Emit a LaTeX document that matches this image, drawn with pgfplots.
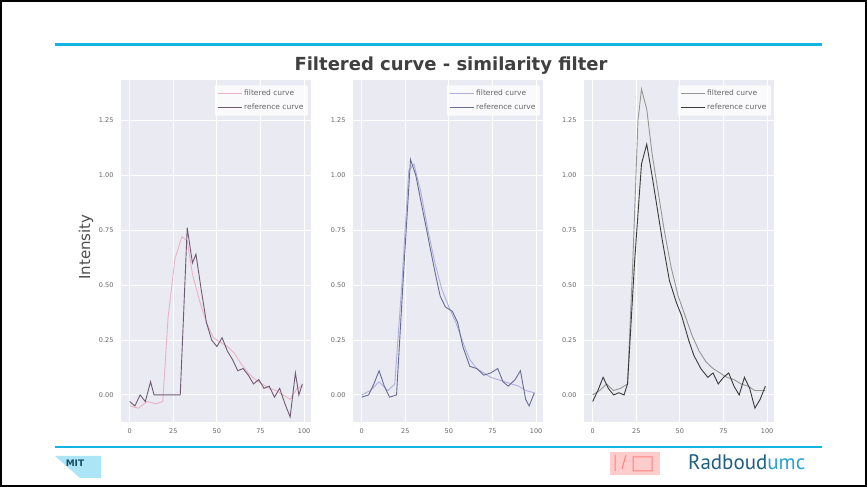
\documentclass[border=0pt]{standalone}
\usepackage{pgfplots}
\pgfplotsset{compat=1.18}
\usepackage{fontspec}
\setmainfont{DejaVu Sans}
\newfontfamily\radfont{PT Sans}
\definecolor{bgc}{HTML}{EAEAF2}
\definecolor{cyanline}{HTML}{12B4E2}
\definecolor{pinkA}{HTML}{E9B3C6}
\definecolor{darkA}{HTML}{6E5A72}
\definecolor{lavB}{HTML}{AEB0DA}
\definecolor{darkB}{HTML}{676C92}
\definecolor{grayC}{HTML}{969696}
\definecolor{darkC}{HTML}{3A3A3A}
\definecolor{radA}{HTML}{1E5F82}
\definecolor{radB}{HTML}{2AA0D4}

\pgfplotstableread{
x y
0 -0.05
5 -0.06
10 -0.03
15 -0.04
19 -0.03
22 0.35
26 0.62
30 0.72
33 0.70
36 0.55
40 0.43
44 0.33
48 0.26
52 0.24
56 0.22
60 0.19
64 0.14
68 0.10
72 0.07
76 0.05
80 0.03
84 0.02
88 0.00
92 -0.02
96 0.03
99 0.04
}\filtA
\pgfplotstableread{
x y
0 -0.03
3 -0.05
6 0.00
9 -0.03
12 0.06
14 0.00
18 0.00
22 0.00
26 0.00
29 0.00
33 0.76
36 0.60
38 0.64
41 0.48
44 0.33
47 0.25
50 0.22
53 0.26
56 0.20
59 0.16
62 0.11
65 0.12
68 0.09
71 0.05
74 0.07
77 0.03
80 0.04
83 -0.01
86 0.03
89 -0.04
92 -0.10
95 0.10
97 0.00
99 0.05
}\refA
\pgfplotstableread{
x y
0 0.00
5 0.02
10 0.06
15 0.02
19 0.05
23 0.50
27 1.02
30 1.05
34 0.92
38 0.75
42 0.60
46 0.48
50 0.40
54 0.33
58 0.24
62 0.16
66 0.12
70 0.10
74 0.08
78 0.07
82 0.06
86 0.05
90 0.04
94 0.02
99 0.01
}\filtB
\pgfplotstableread{
x y
0 -0.01
4 0.00
7 0.05
10 0.11
13 0.04
16 -0.01
20 0.00
24 0.55
28 1.07
31 1.00
34 0.88
38 0.72
42 0.56
45 0.45
48 0.40
52 0.38
55 0.33
58 0.22
62 0.13
66 0.12
70 0.09
74 0.10
78 0.12
81 0.06
84 0.04
88 0.07
91 0.11
94 -0.02
96 -0.05
99 0.01
}\refB
\pgfplotstableread{
x y
0 0.00
4 0.02
8 0.05
12 0.02
16 0.03
20 0.05
23 0.60
26 1.25
28 1.39
31 1.30
34 1.10
37 0.95
41 0.75
45 0.58
49 0.45
53 0.36
57 0.27
61 0.20
65 0.15
69 0.12
73 0.10
77 0.08
81 0.07
85 0.05
89 0.04
93 0.02
99 0.02
}\filtC
\pgfplotstableread{
x y
0 -0.03
3 0.02
6 0.08
9 0.03
12 0.00
15 0.01
18 0.00
20 0.05
24 0.60
28 1.05
31 1.14
34 1.00
37 0.85
40 0.70
44 0.52
48 0.42
51 0.36
55 0.25
58 0.18
62 0.12
66 0.08
69 0.10
72 0.05
75 0.08
78 0.10
81 0.04
84 0.00
87 0.08
90 0.03
93 -0.06
96 -0.02
99 0.04
}\refC

\pgfplotsset{
  panel/.style={
    scale only axis, width=190pt, height=342pt,
    anchor=south west,
    xmin=-4.95, xmax=103.95, ymin=-0.123, ymax=1.432,
    axis background/.style={fill=bgc},
    axis line style={draw=none},
    grid=major, major grid style={white, line width=0.9pt},
    xtick={0,25,50,75,100}, ytick={0,0.25,0.5,0.75,1,1.25},
    yticklabel style={/pgf/number format/fixed, /pgf/number format/fixed zerofill, /pgf/number format/precision=2},
    /pgf/number format/assume math mode=true,
    tick style={draw=none},
    ticklabel style={font=\fontsize{6.5}{7.5}\selectfont, text=black!60},
    xticklabel style={yshift=-3pt},
    yticklabel style={xshift=-4pt},
    legend style={at={(0.985,0.985)}, anchor=north east, draw=none, fill=white, fill opacity=0.8, text opacity=1,
      font=\fontsize{7.5}{8.5}\selectfont, text=black!60, rounded corners=1pt, row sep=3pt, inner sep=2.5pt},
    legend cell align=left,
    legend image post style={line width=0.9pt},
    legend image code/.code={\draw[##1] (0pt,0pt) -- (24pt,0pt);},
  }
}

\begin{document}
\begin{tikzpicture}[x=1pt,y=1pt]
\useasboundingbox (0,0) rectangle (867,487);
\fill[white] (0,0) rectangle (867,487);
% slide decorations
\draw[cyanline, line width=3pt] (55,442) -- (822,442);
\draw[cyanline, line width=1.2pt] (55,40) -- (822,40);
\node[font=\bfseries\fontsize{18}{20}\selectfont, text=black!75] at (451,421) {Filtered curve - similarity filter};
\node[rotate=90, font=\fontsize{15}{17}\selectfont, text=black!70] at (86,240) {Intensity};

\begin{axis}[panel, at={(121pt,65pt)}]
\addplot[pinkA, line width=0.9pt] table {\filtA};
\addlegendentry{filtered curve}
\addplot[darkA, line width=0.9pt] table {\refA};
\addlegendentry{reference curve}
\end{axis}

\begin{axis}[panel, at={(353pt,65pt)}]
\addplot[lavB, line width=0.9pt] table {\filtB};
\addlegendentry{filtered curve}
\addplot[darkB, line width=0.9pt] table {\refB};
\addlegendentry{reference curve}
\end{axis}

\begin{axis}[panel, at={(584pt,65pt)}]
\addplot[grayC, line width=0.9pt] table {\filtC};
\addlegendentry{filtered curve}
\addplot[darkC, line width=0.9pt] table {\refC};
\addlegendentry{reference curve}
\end{axis}

% bottom-left logo
\fill[cyanline!35] (55,31) -- (101,31) -- (101,9) -- (80,9) -- cycle;
\node[font=\bfseries\fontsize{9}{10}\selectfont, text=radA!80!black] at (75,24) {MIT};
% bottom-right logo
\fill[red!20] (610,12) rectangle (660,35);
\draw[red!50, line width=1pt] (615,16) -- (615,32) (622,18) -- (626,32) (633,16) rectangle (652,30);
\node[anchor=base west, inner sep=0pt, font=\radfont\fontsize{21}{23}\selectfont] at (688,17) {\textcolor{radA}{Radboud}\textcolor{radB}{umc}};

\draw[line width=2pt] (1,1) rectangle (866,486);
\end{tikzpicture}
\end{document}
